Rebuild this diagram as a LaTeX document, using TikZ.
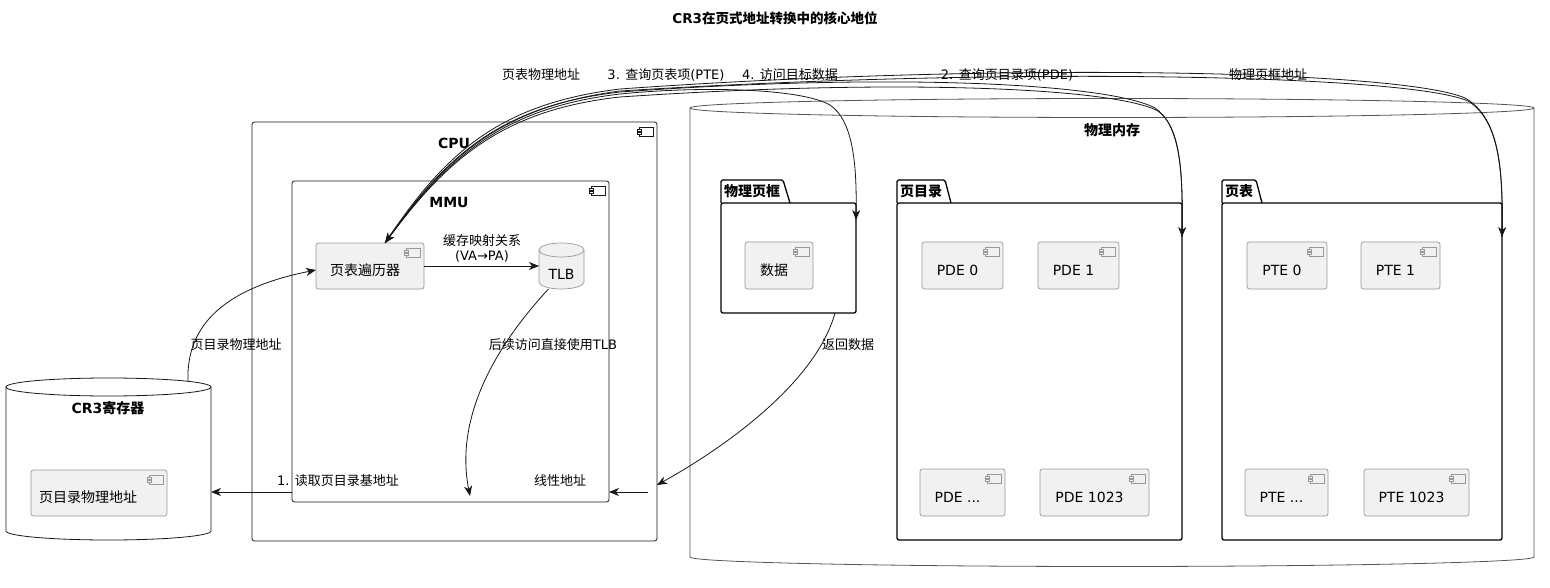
\documentclass[tikz,border=0pt]{standalone}
\usepackage{fontspec}
\setmainfont{DejaVu Sans}
\newfontfamily\cjk{Noto Sans CJK SC}
\usetikzlibrary{arrows.meta,calc}
\XeTeXinterchartokenstate=1
\newXeTeXintercharclass\CJKcls
\count255="4E00
\loop
  \XeTeXcharclass\count255=\CJKcls
  \ifnum\count255<"9FFF \advance\count255 by 1
\repeat
\XeTeXinterchartoks 0 \CJKcls={\cjk}
\XeTeXinterchartoks 4095 \CJKcls={\cjk}
\XeTeXinterchartoks \CJKcls 0={\rmfamily}
\XeTeXinterchartoks \CJKcls 4095={\rmfamily}
\definecolor{compfill}{HTML}{F1F1F1}
\definecolor{compline}{HTML}{999999}
\definecolor{linecol}{HTML}{181818}
\definecolor{cylline}{HTML}{555555}
% #1 left x, #2 top-center y, #3 bottom side y, #4 rx, #5 ry, #6 style
\newcommand\drawcyl[6]{%
  \path[#6] (#1,#2) -- (#1,#3) arc[start angle=180,end angle=360,x radius=#4pt,y radius=#5pt]
     -- ++(0,{#2-#3}) arc[start angle=0,end angle=180,x radius=#4pt,y radius=#5pt] -- cycle;
  \draw[#6,fill=none] (#1,#2) arc[start angle=180,end angle=360,x radius=#4pt,y radius=#5pt];
}
\begin{document}
\begin{tikzpicture}[x=1pt,y=-1pt,
  every node/.style={inner sep=0pt, outer sep=0pt, font=\fontsize{13}{15}\selectfont, text=black},
  bold/.style={font=\bfseries\fontsize{14}{16}\selectfont},
  icon/.style 2 args={path picture={
    \begin{scope}[sharp corners, line width=0.6pt, draw=#1, fill=#2]
      \coordinate (pp) at (path picture bounding box.north east);
      \filldraw ([xshift=-18pt,yshift=-5pt]pp) rectangle ([xshift=-4pt,yshift=-14pt]pp);
      \filldraw ([xshift=-20pt,yshift=-7pt]pp) rectangle ([xshift=-16pt,yshift=-9pt]pp);
      \filldraw ([xshift=-20pt,yshift=-10.5pt]pp) rectangle ([xshift=-16pt,yshift=-12.5pt]pp);
    \end{scope}}},
  boxcont/.style={draw=linecol, line width=0.8pt, rounded corners=2.5pt, icon={linecol}{white}},
  comp/.style={draw=compline, fill=compfill, line width=0.7pt, rounded corners=2.5pt,
    minimum height=47pt, font=\fontsize{14}{16}\selectfont, text height=19pt, text depth=0pt,
    icon={compline}{compfill}, execute at begin node={\hspace*{-10pt}}},
  pkgbody/.style={draw=black, line width=1.3pt, rounded corners=2pt},
  pkgtab/.style={draw=black, line width=1.3pt, rounded corners=1.5pt},
  ghost/.style={draw=none},
  arr/.style={draw=linecol, line width=0.8pt, -{Stealth[length=10pt,width=8pt,inset=3pt]}},
  rarr/.style={draw=linecol, line width=0.8pt, {Stealth[length=10pt,width=8pt,inset=3pt]}-},
  cyl/.style={draw=cylline, line width=0.8pt, fill=white},
  cylc/.style={draw=compline, line width=0.7pt, fill=compfill},
]
\useasboundingbox (0,0) rectangle (1550,588);
\fill[white] (0,0) rectangle (1550,588);

\node[font=\bfseries\fontsize{13.5}{16}\selectfont] (title) at (775,18) {CR3在页式地址转换中的核心地位};

% ---------- physical memory ----------
\drawcyl{690}{108}{557}{422}{9.5}{cyl}
\node[ghost, minimum width=844pt, minimum height=449pt] (mem) at (1112,332.5) {};
\node[bold] (memlbl) at (1112,130) {物理内存};

% packages
\node[pkgbody, minimum width=135pt, minimum height=110pt] (frame) at (788.5,258) {};
\draw[pkgtab] (frame.north west) -- ++(0,-23) -- ++(62,0) -- ++(7,23);
\node[bold, anchor=base west] (framelbl) at ([xshift=3pt,yshift=6pt]frame.north west) {物理页框};
\node[comp, minimum width=68pt] (data) at (779,265.5) {数据};

\node[pkgbody, minimum width=285pt, minimum height=337pt] (pd) at (1039.5,371.5) {};
\draw[pkgtab] (pd.north west) -- ++(0,-23) -- ++(48,0) -- ++(6,23);
\node[bold, anchor=base west] (pdlbl) at ([xshift=3pt,yshift=6pt]pd.north west) {页目录};
\node[comp, minimum width=81pt] (pde0) at (962.5,265.5) {PDE 0};
\node[comp, minimum width=81pt] (pde1) at (1078.5,265.5) {PDE 1};
\node[comp, minimum width=85pt] (pdex) at (962.5,492.5) {PDE ...};
\node[comp, minimum width=109pt] (pde1023) at (1094.5,492.5) {PDE 1023};

\node[pkgbody, minimum width=280pt, minimum height=337pt] (pt) at (1362,371.5) {};
\draw[pkgtab] (pt.north west) -- ++(0,-23) -- ++(34,0) -- ++(6,23);
\node[bold, anchor=base west] (ptlbl) at ([xshift=3pt,yshift=6pt]pt.north west) {页表};
\node[comp, minimum width=80pt] (pte0) at (1287,265.5) {PTE 0};
\node[comp, minimum width=79pt] (pte1) at (1400.5,265.5) {PTE 1};
\node[comp, minimum width=83pt] (ptex) at (1286.5,492.5) {PTE ...};
\node[comp, minimum width=105pt] (pte1023) at (1416.5,492.5) {PTE 1023};

% ---------- CPU ----------
\node[boxcont, minimum width=405pt, minimum height=419pt] (cpu) at (454.5,331.5) {};
\node[bold] (cpulbl) at (454,143) {CPU};
\node[boxcont, minimum width=317pt, minimum height=321pt] (mmu) at (450.5,341.5) {};
\node[bold] (mmulbl) at (449,202) {MMU};
\node[comp, minimum width=108pt, minimum height=46pt] (walker) at (370,266) {页表遍历器};
\drawcyl{539}{250}{282}{22.5}{7}{cylc}
\node[ghost, minimum width=45pt, minimum height=46pt, font=\fontsize{14}{16}\selectfont,
      text height=27pt, text depth=0pt] (tlb) at (561.5,266) {TLB};

% ---------- CR3 ----------
\drawcyl{6}{387}{531}{102.5}{9}{cyl, draw=linecol}
\node[ghost, minimum width=205pt, minimum height=144pt] (cr3) at (108.5,459) {};
\node[bold] (cr3lbl) at (108,408) {CR3寄存器};
\node[comp, minimum width=136pt, minimum height=46pt, execute at begin node={\hspace*{-12pt}}] (pdaddr) at (99,493) {页目录物理地址};

% ---------- coordinates ----------
\coordinate (wtop) at ([xshift=15pt]walker.north);
\coordinate (frameR) at ([yshift=-17pt]frame.north east);
\coordinate (pdR) at ([yshift=-34pt]pd.north east);
\coordinate (ptR) at ([yshift=-34pt]pt.north east);
\coordinate (cr3top) at (188,381);
\coordinate (tlbend) at (470,496);
\coordinate (mmuw) at ([yshift=10pt]mmu.south west);
\coordinate (linS) at (648,492);
\coordinate (retE) at (657,485);

% ---------- connectors ----------
\draw[arr] (walker.east) -- (tlb.west);
\draw[arr] ([xshift=-13pt]tlb.south) .. controls (492,350) and (455,420) .. (tlbend);
\draw[arr] (mmuw) -- (mmuw -| cr3.east);
\draw[arr] (linS) -- (linS -| mmu.east);
\draw[arr] ([xshift=-21pt]frame.south east) .. controls (815,385) and (720,450) .. (retE);
\draw[arr] (cr3top) .. controls (186,325) and (225,288) .. ([yshift=-4pt]walker.west);

% top bundle
\draw[arr] (wtop) .. controls (445,160) and (500,108) .. (620,94) .. controls (700,86) and (800,88) .. (830,105) .. controls (852,120) and (857,160) .. (frameR);
\draw[arr] (wtop) .. controls (444,158) and (498,106) .. (620,92) .. controls (900,72) and (1110,84) .. (1155,108) .. controls (1180,125) and (1183,170) .. (pdR);
\draw[rarr] (wtop) .. controls (446,161) and (501,110) .. (620,97) .. controls (900,78) and (1115,88) .. (1158,111) .. controls (1181,128) and (1183,172) .. (pdR);
\draw[arr] (wtop) .. controls (443,156) and (496,104) .. (620,89) .. controls (1000,62) and (1400,70) .. (1465,98) .. controls (1500,118) and (1503,170) .. (ptR);
\draw[rarr] (wtop) .. controls (445,159) and (499,107) .. (620,91) .. controls (1000,67) and (1405,74) .. (1468,101) .. controls (1500,121) and (1503,172) .. (ptR);

% ---------- labels ----------
\node[align=center] (lcache) at (482,248) {缓存映射关系\\(VA→PA)};
\node (ltlb) at (553,345) {后续访问直接使用TLB};
\node (lread) at (338,481) {1. 读取页目录基地址};
\node (llin) at (560,481) {线性地址};
\node (lcr3) at (236,345) {页目录物理地址};
\node (lret) at (848,345) {返回数据};
\node (lpta) at (541,75) {页表物理地址};
\node (lq3) at (666,75) {3. 查询页表项(PTE)};
\node (lq4) at (790,75) {4. 访问目标数据};
\node (lq2) at (1007,75) {2. 查询页目录项(PDE)};
\node (lpfa) at (1268,75) {物理页框地址};
\end{tikzpicture}
\end{document}
